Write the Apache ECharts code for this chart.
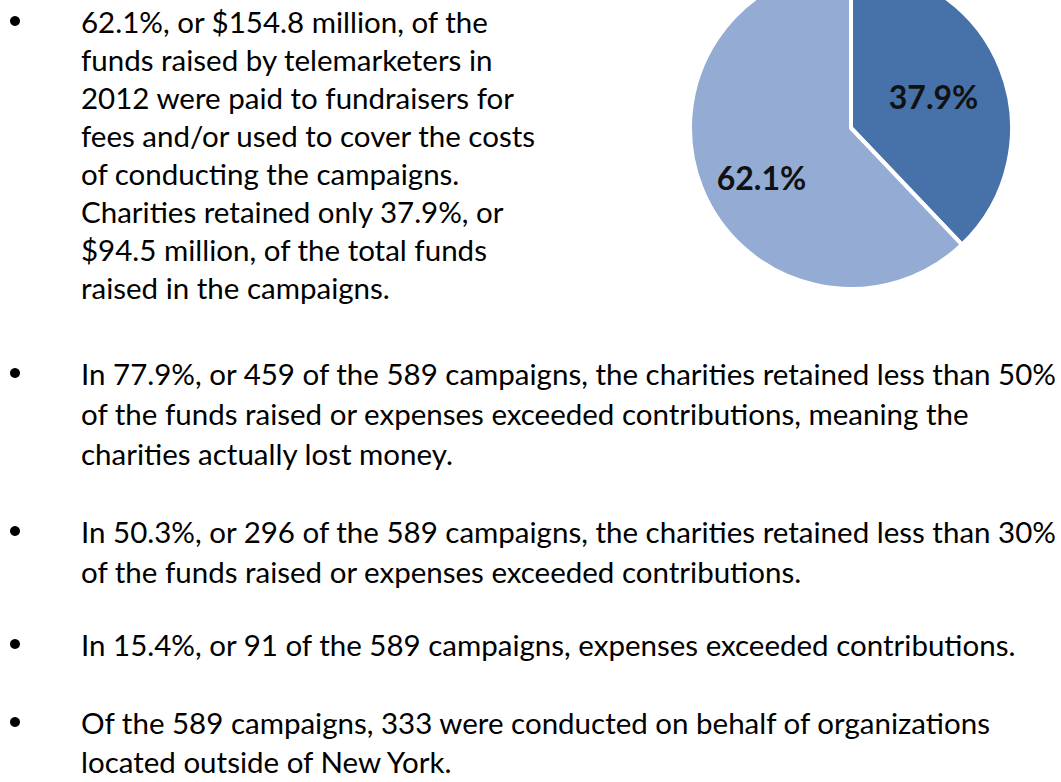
<!DOCTYPE html>
<html style="height: 100%;width: 100%">
<head>
<meta charset="utf-8">
<script src="https://cdn.jsdelivr.net/npm/echarts@6/dist/echarts.min.js"></script>
</head>
<body style="margin:0;height: 100%;width: 100%;overflow: hidden;background:#fff">
<div id="container" style="width:1061px;height:782px"></div>
<script type="text/javascript">
// pie data
var sliceNames = ['Retained by charities', 'Fundraiser fees and costs'];
var sliceValues = [37.9, 62.1];
var sliceColors = ['#4672a9', '#94abd3'];

// bullet text, one array of lines per bullet
var bullets = [
    ['62.1%, or $154.8 million, of the',
     'funds raised by telemarketers in',
     '2012 were paid to fundraisers for',
     'fees and/or used to cover the costs',
     'of conducting the campaigns.',
     'Charities retained only 37.9%, or',
     '$94.5 million, of the total funds',
     'raised in the campaigns.'],
    ['In 77.9%, or 459 of the 589 campaigns, the charities retained less than 50%',
     'of the funds raised or expenses exceeded contributions, meaning the',
     'charities actually lost money.'],
    ['In 50.3%, or 296 of the 589 campaigns, the charities retained less than 30%',
     'of the funds raised or expenses exceeded contributions.'],
    ['In 15.4%, or 91 of the 589 campaigns, expenses exceeded contributions.'],
    ['Of the 589 campaigns, 333 were conducted on behalf of organizations',
     'located outside of New York.']
];

// layout of the text blocks
var blockTop = [21, 373, 531, 644, 722];
var blockGap = [38.1, 40, 40, 40, 39.5];
var font = '29.5px Lato';

var els = [];
bullets.forEach(function (lines, b) {
    els.push({
        type: 'circle',
        shape: {cx: 15, cy: blockTop[b], r: 5},
        style: {fill: '#000'}
    });
    lines.forEach(function (t, i) {
        els.push({
            type: 'text',
            x: 81,
            y: blockTop[b] + i * blockGap[b],
            style: {text: t, font: font, fill: '#000', verticalAlign: 'middle'}
        });
    });
});

var myChart = echarts.init(document.getElementById('container'), null, {renderer: 'svg'});
var option = {
    animation: false,
    graphic: els,
    series: [{
        type: 'pie',
        center: [851, 128],
        radius: 161,
        startAngle: 90,
        clockwise: true,
        itemStyle: {borderColor: '#fff', borderWidth: 4},
        label: {
            position: 'inside',
            formatter: function (p) { return p.value.toFixed(1) + '%'; },
            fontFamily: 'Lato',
            fontWeight: 'bold',
            fontSize: 32,
            color: '#111'
        },
        labelLine: {show: false},
        labelLayout: function (p) {
            return p.dataIndex === 0 ? {dx: 5, dy: -1} : {dx: -12, dy: 19};
        },
        data: sliceValues.map(function (v, i) {
            return {name: sliceNames[i], value: v, itemStyle: {color: sliceColors[i]}};
        })
    }]
};
myChart.setOption(option);
</script>
</body>
</html>
